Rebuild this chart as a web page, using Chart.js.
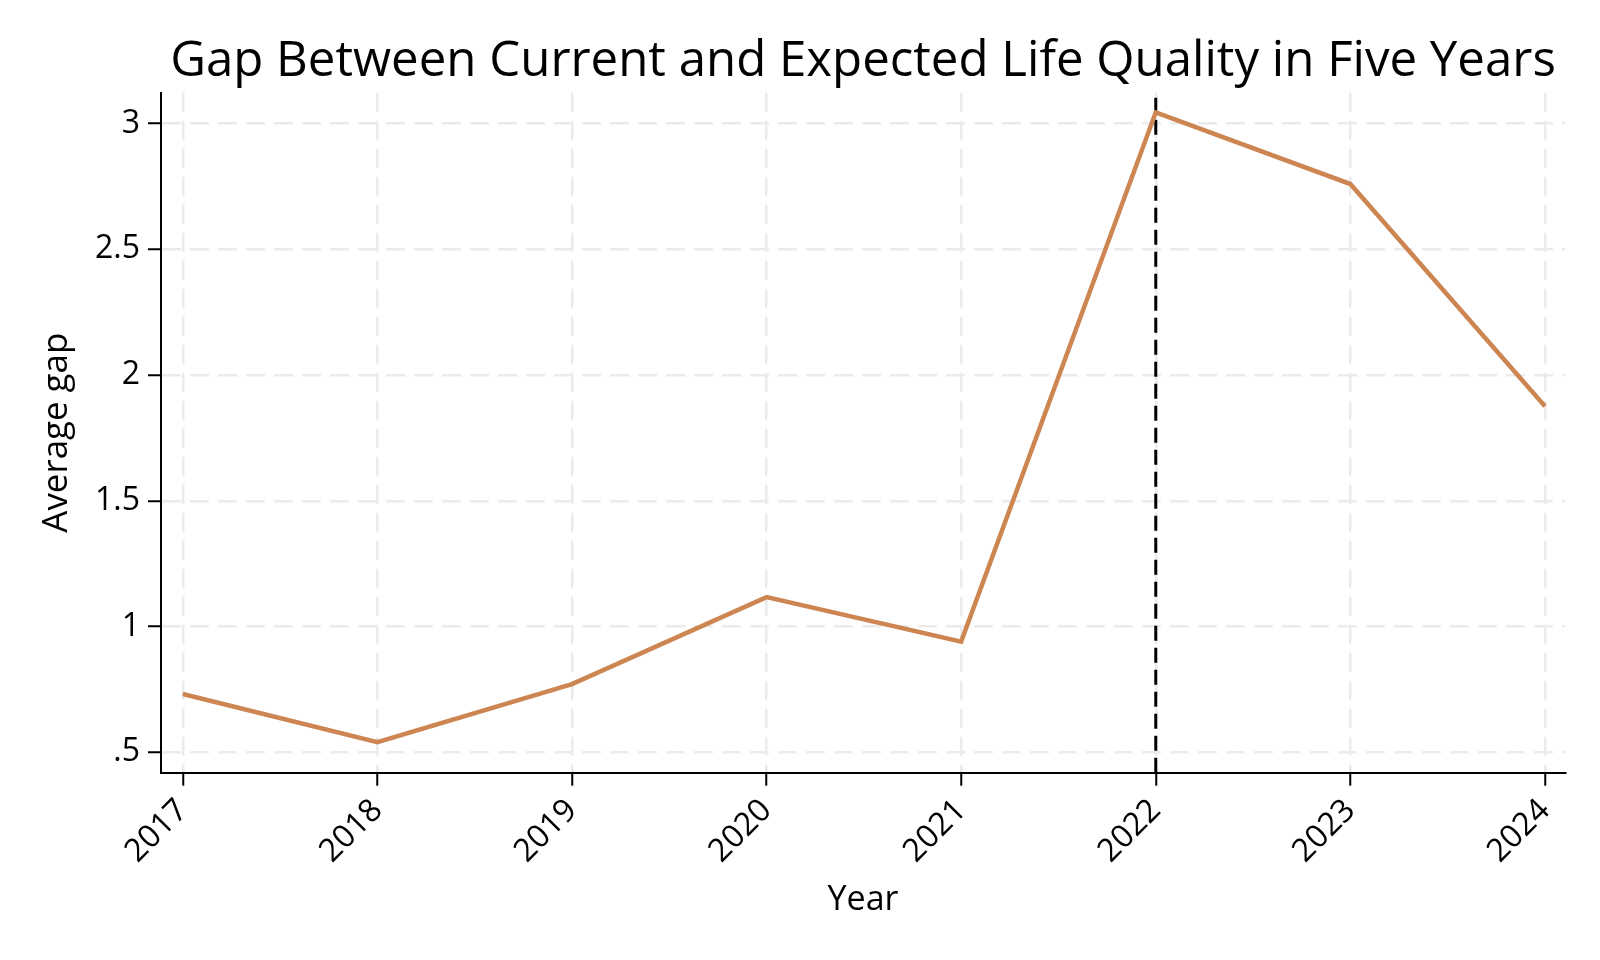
<!DOCTYPE html>
<html><head><meta charset="utf-8">
<script src="https://cdn.jsdelivr.net/npm/chart.js@4/dist/chart.umd.min.js"></script>
<style>html,body{margin:0;padding:0;background:#fff}#wrap{width:1600px;height:960px}</style>
</head><body><div id="wrap"><canvas id="c" width="1600" height="960"></canvas></div>
<script>
// ---- data ----
const years = [2017, 2018, 2019, 2020, 2021, 2022, 2023, 2024];
const avgGap = [0.732, 0.540, 0.771, 1.117, 0.940, 3.044, 2.759, 1.876];
const yTickValues = [0.5, 1, 1.5, 2, 2.5, 3];
const markerYear = 2022;
const titleText = 'Gap Between Current and Expected Life Quality in Five Years';
const yLabel = 'Average gap';
const xLabel = 'Year';

// ---- styling / layout ----
const FAMILY = '"Open Sans", "DejaVu Sans", sans-serif';
const yMin = 0.419, yMax = 3.122, xMin = 2016.888, xMax = 2024.103;
const TICK_SIZE = 32;

function fitSize(text, targetWidth) {
  const m = document.createElement('canvas').getContext('2d');
  m.font = '100px ' + FAMILY;
  return 100 * targetWidth / m.measureText(text).width;
}
const titleSize = fitSize(titleText, 1386);
const yLabelSize = fitSize(yLabel, 200);
const xLabelSize = fitSize(xLabel, 71);
const titleLH = titleSize * 1.2;
const titlePadTop = 62 - titleLH / 2;
const titlePadBottom = 92.7 - titlePadTop - titleLH;

const gridCommon = {
  color: '#ebebeb', lineWidth: 2.5,
  drawTicks: true, tickLength: 13, tickColor: '#000', tickWidth: 2
};
const borderCommon = { display: true, color: '#000', width: 2, dash: [19, 9] };
const fmt = v => String(v).replace(/^0\./, '.');

Chart.defaults.color = '#000';
Chart.defaults.font.family = FAMILY;

new Chart(document.getElementById('c'), {
  type: 'line',
  data: {
    datasets: [
      {
        label: 'Average gap',
        data: years.map((yr, i) => ({ x: yr, y: avgGap[i] })),
        borderColor: '#cd8551', borderWidth: 4.5, pointRadius: 0, tension: 0, fill: false,
        borderJoinStyle: 'miter'
      },
      {
        label: 'marker',
        data: [{ x: markerYear, y: yMin }, { x: markerYear, y: yMax }],
        borderColor: '#000', borderWidth: 3, borderDash: [15, 7], pointRadius: 0, fill: false
      }
    ]
  },
  options: {
    responsive: false, animation: false, devicePixelRatio: 1,
    layout: { padding: { left: 0, right: 35, top: 0, bottom: 0 } },
    plugins: {
      legend: { display: false },
      tooltip: { enabled: false },
      title: {
        display: true, text: titleText, fullSize: false, color: '#000',
        font: { size: titleSize, weight: 'normal', family: FAMILY, lineHeight: 1.2 },
        padding: { top: titlePadTop, bottom: titlePadBottom }
      }
    },
    scales: {
      x: {
        type: 'linear', min: xMin, max: xMax,
        afterBuildTicks: s => { s.ticks = years.map(v => ({ value: v })); },
        afterFit: s => { s.height = 187.3; },
        ticks: { font: { size: TICK_SIZE }, color: '#000', maxRotation: 45, minRotation: 45, padding: 6, autoSkip: false, callback: v => String(v) },
        grid: gridCommon,
        border: borderCommon,
        title: { display: true, text: xLabel, color: '#000', font: { size: xLabelSize, lineHeight: 1.2 }, padding: { top: 0, bottom: 960 - 900 - xLabelSize * 0.6 } }
      },
      y: {
        type: 'linear', min: yMin, max: yMax,
        afterBuildTicks: s => { s.ticks = yTickValues.map(v => ({ value: v })); },
        afterFit: s => { s.width = 161; },
        ticks: { font: { size: TICK_SIZE }, color: '#000', padding: 8, callback: v => fmt(v) },
        grid: gridCommon,
        border: borderCommon,
        title: { display: true, text: yLabel, color: '#000', font: { size: yLabelSize, lineHeight: 1.2 }, padding: { top: 57 - yLabelSize * 0.6, bottom: 0 } }
      }
    }
  }
});
</script>
</body></html>
